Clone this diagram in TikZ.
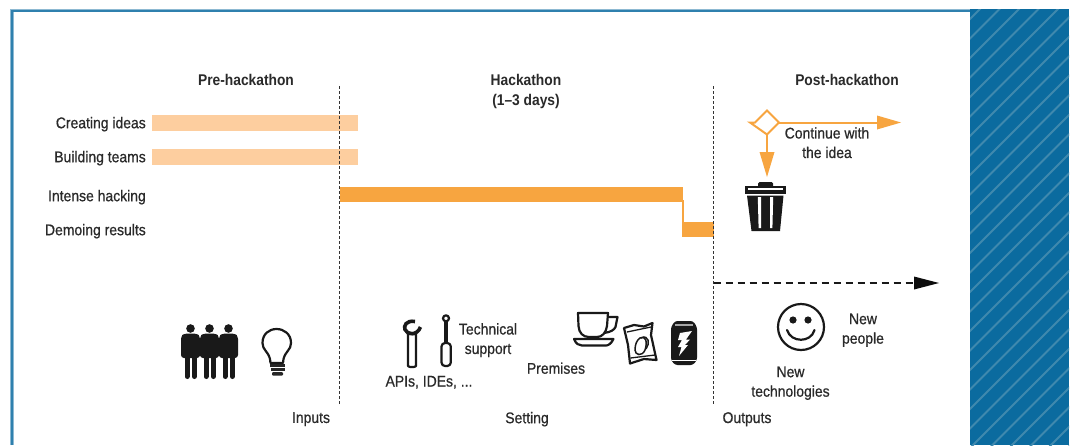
\documentclass[tikz,border=0pt]{standalone}
\usepackage{fontspec}
\setmainfont[FakeStretch=0.9,FakeBold=0.7]{Liberation Sans}
\newfontfamily\headfont[FakeStretch=0.89]{Liberation Sans Bold}
\definecolor{frameblue}{HTML}{2F80AE}
\definecolor{hatchblue}{HTML}{0B6B9F}
\definecolor{stripeblue}{HTML}{3F89AE}
\definecolor{lightorange}{HTML}{FDCE9F}
\definecolor{midorange}{HTML}{F7A540}
\definecolor{txt}{HTML}{2A2A2A}
\tikzset{
 lab/.style={font=\fontsize{15.5}{19.5}\selectfont, text=txt, inner sep=0pt, align=center, yshift=-1.2pt},
 head/.style={font=\fontsize{15.5}{19.5}\selectfont\headfont, text=txt, inner sep=0pt, align=center, yshift=-2pt},
 rowlab/.style={lab, anchor=east},
 divider/.style={draw=black!80, line width=1.2pt, dash pattern=on 3pt off 2pt},
 softbar/.style={fill=lightorange, draw=none},
 hardbar/.style={fill=midorange, draw=none},
 orangeline/.style={draw=midorange, line width=2pt},
 orangetip/.style={fill=midorange, draw=none},
 icon/.style={draw=black!90, line width=2.2pt, line join=round, fill=white},
}
\begin{document}
\begin{tikzpicture}[x=1pt,y=-1pt]
\useasboundingbox (0,0) rectangle (1075,445);
\fill[white] (0,0) rectangle (1075,445);
% frame
\draw[frameblue!55!white, line width=3.5pt] (12,445) -- (12,10.5) -- (1069,10.5);
\draw[frameblue, line width=2pt] (12,445) -- (12,10.5) -- (1069,10.5);
% hatched band
\fill[hatchblue] (970,9) rectangle (1069,445);
\begin{scope}
\clip (970,9) rectangle (1069,445);
\foreach \k in {0,...,29}
  \draw[stripeblue, line width=2pt] (950+\k*19.5,0) -- ++(-500,500);
\end{scope}
% dividers
\coordinate (d1t) at (339.5,86); \coordinate (d1b) at (339.5,405);
\coordinate (d2t) at (713.5,86); \coordinate (d2b) at (713.5,405);
% bars
\fill[softbar] (152,115) rectangle (358,131);
\fill[softbar] (152,149) rectangle (358,165);
\fill[hardbar] (340,187) rectangle (683,202);
\fill[hardbar] (682,222) rectangle (714,237);
\draw[midorange, line width=2pt] (682.5,200) -- (682.5,223);
\draw[divider] (d1t) -- (d1b);
\draw[divider] (d2t) -- (d2b);
% texts
\node[head] (pre) at (246,78) {Pre-hackathon};
\node[head] (hack) at (526,89.5) {Hackathon\\(1–3 days)};
\node[head] (post) at (847,78) {Post-hackathon};
\node[rowlab] (r1) at (146,123) {Creating ideas};
\node[rowlab] (r2) at (146,157) {Building teams};
\node[rowlab] (r3) at (146,196) {Intense hacking};
\node[rowlab] (r4) at (146,230) {Demoing results};
\node[lab] (cont) at (827,141.5) {Continue with\\the idea};
\node[lab] (tech) at (488,339) {Technical\\support};
\node[lab] (apis) at (429,381) {APIs, IDEs, ...};
\node[lab] (prem) at (556,367) {Premises};
\node[lab] (newt) at (790.5,382) {New\\technologies};
\node[lab] (newp) at (863,329) {New\\people};
\node[lab] (inp) at (311,418) {Inputs};
\node[lab] (set) at (527,418) {Setting};
\node[lab] (out) at (747,418) {Outputs};
% decision diamond
\coordinate (tail) at (750,122.5);
\coordinate (dl) at (755,122.5); \coordinate (dr) at (779,122.5);
\coordinate (dt) at (767,110.5); \coordinate (db) at (767,134.5);
\coordinate (hhead) at (877,122.5); \coordinate (htip) at (901,122.5);
\coordinate (vhead) at (767,152); \coordinate (vtip) at (767,177);
\draw[orangeline] (tail) -- (dl) -- (dt) -- (dr) -- (db) -- cycle;
\draw[orangeline] (dr) -- (hhead);
\draw[orangeline] (db) -- (vhead);
\fill[orangetip] (877,115.5) -- (htip) -- (877,129.5) -- cycle;
\fill[orangetip] (759.5,152) -- (vtip) -- (774.5,152) -- cycle;
% trash
\fill[black!90] (758,187) -- (758,183.5) -- (759.5,182) -- (771.5,182) -- (773,183.5) -- (773,187) -- cycle;
\fill[black!90] (745,186) rectangle (786,194);
\fill[black!90] (747,195.5) -- (783.5,195.5) -- (780,231) -- (751.5,231) -- cycle;
\fill[white] (748,188.2) rectangle (783,190);
\fill[white] (757.8,197) -- (761,197) -- (761,228) -- (758.6,228) -- cycle;
\fill[white] (770,197) -- (773.2,197) -- (772.4,228) -- (770,228) -- cycle;
% dashed arrow
\coordinate (dashend) at (915,283);
\draw[black!90, line width=1.8pt, dash pattern=on 7pt off 5pt] (d2t |- dashend) -- (dashend);
\fill[black!95] (914,276.5) -- (939,283) -- (914,289.5) -- cycle;
% people
\fill[black!90] (183,338) rectangle (236.5,356);
\foreach \c in {0,19,38}{
  \fill[black!90] (190.5+\c,328.5) circle (4.3);
  \fill[black!90,rounded corners=3pt] (181+\c,358) -- (181+\c,336) -- (184.5+\c,333.5) -- (196.5+\c,333.5) -- (200+\c,336) -- (200+\c,358) -- cycle;
  \draw[black!90, line width=5pt, line cap=round] (187+\c,355) -- (187+\c,376.5);
  \draw[black!90, line width=5pt, line cap=round] (194.2+\c,355) -- (194.2+\c,376.5);
}
% bulb
\draw[icon] (270.5,363) -- (270,359) .. controls (268,351) and (262.5,350) .. (262.5,343)
  .. controls (262.5,334) and (269,329) .. (276.5,329)
  .. controls (284,329) and (291,334) .. (291,343)
  .. controls (291,350) and (285.5,351) .. (283.5,359) -- (283,363) -- cycle;
\fill[black!85] (270,364) rectangle (285,367);
\fill[black!85] (270.5,368.3) rectangle (284.5,371);
\fill[black!85,rounded corners=1pt] (272,372) rectangle (283,375.5);
% wrench
\draw[icon] (408,366) -- (408,334) -- (416,334) -- (416,366) .. controls (415,367.5) and (409,367.5) .. (408,366) -- cycle;
\draw[black!90, line width=3.6pt] (415,321.5) .. controls (406,320) and (403.5,326) .. (405,329.5)
  .. controls (407,335) and (417,336) .. (420.5,327);
% screwdriver
\draw[icon] (446,318.3) circle (3);
\fill[black!90] (444,321) rectangle (448,345);
\draw[icon, rounded corners=3.5pt] (441.5,343) rectangle (450.8,366);
% cup
\draw[icon] (608,317) -- (617.5,317) -- (615.5,327) .. controls (614,330) and (611,332) .. (604,333);
\draw[icon] (578,313) -- (608,313) -- (607,326) .. controls (606,333) and (602,337) .. (597,337)
  -- (589,337) .. controls (583,337) and (579,333) .. (578.5,326) -- cycle;
\draw[icon] (574,339) -- (613.5,339) .. controls (611,344) and (608,345.5) .. (606,345.5) -- (582,345.5) .. controls (579,345.5) and (576,344) .. (574,339) -- cycle;
% chips bag
\draw[icon] (624,328) -- (634,325) -- (644,326.5) -- (652.5,323) -- (651,335) -- (656.5,360) -- (644,359) -- (630,363.5) -- (628,345) -- cycle;
\draw[black!90, line width=1.3pt] (627,332) -- (651,327) (630.5,358) -- (655,355);
\draw[black!90, line width=1.5pt] (640,338) .. controls (645,335) and (648,341) .. (645,350) .. controls (642,357) and (635,355) .. (635,350) .. controls (635,344) and (637,340) .. (640,338) -- cycle;
\draw[black!90, line width=1.5pt] (641,338) .. controls (649,334) and (650,344) .. (646,349);
% can
\fill[black!90, rounded corners=2.5pt] (671,327) -- (675,321) -- (693,321) -- (697,327) -- (697,360) -- (693,365) -- (675,365) -- (671,360) -- cycle;
\fill[black!35] (675,323.5) rectangle (693,325.5);
\draw[white, line width=1pt] (672,360.5) -- (696,360.5);
\fill[white] (680,333) -- (692,331) -- (686,339.5) -- (690,339.5) -- (685,345) -- (688,345) -- (679,356) -- (681.5,347) -- (678,347) -- (682,340) -- (678,340) -- cycle;
% smiley
\draw[icon] (801,327) circle (23);
\fill[black!90] (793,320) circle (3.6);
\fill[black!90] (808,320) circle (3.6);
\draw[black!90, line width=2.2pt, line cap=round] (787,330) .. controls (791,343) and (811,343) .. (814.5,330);
\end{tikzpicture}
\end{document}
